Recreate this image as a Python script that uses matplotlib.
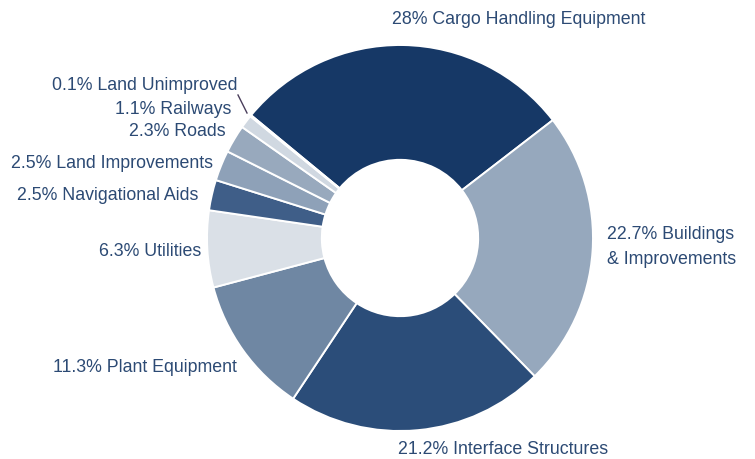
import matplotlib.pyplot as plt

categories = ['Cargo Handling Equipment', 'Buildings\n& Improvements', 'Interface Structures',
              'Plant Equipment', 'Utilities', 'Navigational Aids', 'Land Improvements',
              'Roads', 'Railways', 'Land Unimproved']
shares = [28, 22.7, 21.2, 11.3, 6.3, 2.5, 2.5, 2.3, 1.1, 0.1]
colors = ['#163866', '#96a8bd', '#2b4d79', '#6f87a3', '#dae0e7', '#3f5e88',
          '#8ea1b8', '#98a9bd', '#d0d8e1', '#f2f4f7']

# label anchor (px from top-left) and horizontal alignment
label_pos = [(392, 20, 'left'), (607, 247, 'left'), (398, 450, 'left'),
             (237, 368, 'right'), (201, 252, 'right'), (198, 195, 'right'),
             (213, 163, 'right'), (226, 132, 'right'), (231, 110, 'right'),
             (237, 85, 'right')]

W, H = 755, 459
text_color = '#2c4a74'

fig = plt.figure(figsize=(W / 100, H / 100), dpi=100)
ax = fig.add_axes([0, 0, 1, 1])

cx, cy, r = 400, H - 238, 193
ax.pie(shares, colors=colors, startangle=140.5, counterclock=False,
       center=(cx, cy), radius=r,
       wedgeprops=dict(width=r * 0.595, edgecolor='white', linewidth=1.4))

ax.set_xlim(0, W)
ax.set_ylim(0, H)
ax.set_aspect('equal')
ax.axis('off')

for name, val, (x, y, ha) in zip(categories, shares, label_pos):
    txt = f'{val:g}% {name}'
    ax.text(x, H - y, txt, ha=ha, va='center', fontsize=12.8,
            color=text_color, family='Liberation Sans', linespacing=1.6)

# leader for the tiny slice
ax.plot([238, 247], [H - 95, H - 113], color='#4a3f5c', lw=1)

fig.savefig('out.png', dpi=100)
